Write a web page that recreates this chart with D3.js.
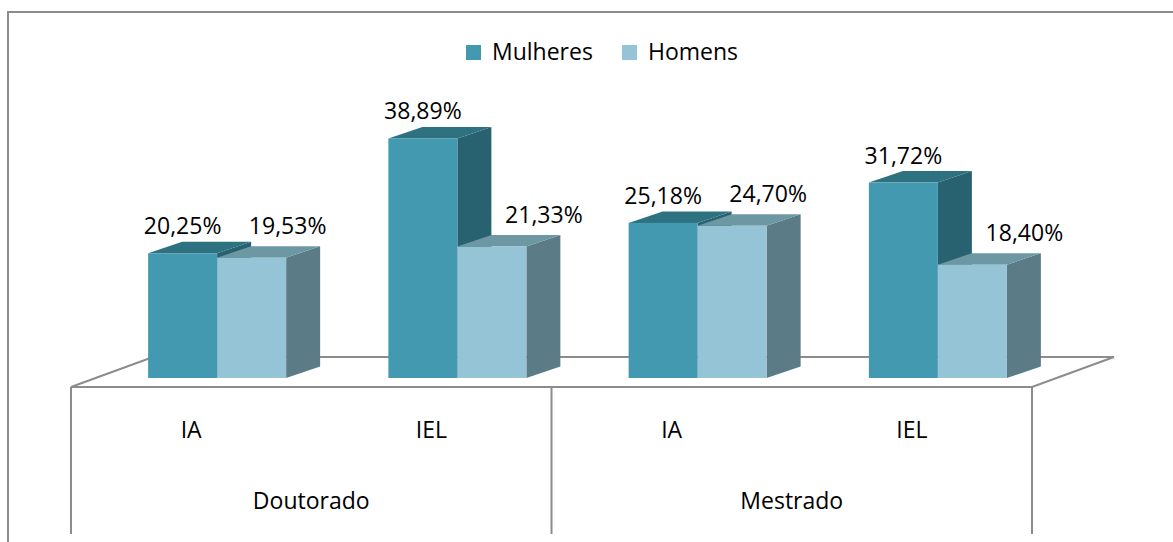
<!DOCTYPE html>
<html>
<head>
<meta charset="utf-8">
<script src="https://cdn.jsdelivr.net/npm/d3@7"></script>
<style>
  body { margin: 0; background: #fff; }
  svg { display: block; font-family: "Open Sans", sans-serif; }
</style>
</head>
<body>
<div id="chart"></div>
<script>
// dados
const grupos = ['Doutorado', 'Mestrado'];
const institutos = ['IA', 'IEL'];
const series = ['Mulheres', 'Homens'];
const mulheres = [20.25, 38.89, 25.18, 31.72];
const homens = [19.53, 21.33, 24.70, 18.40];

const width = 1173, height = 542;
const cores = {
    Mulheres: { front: '#4299b0', top: '#2e7282', side: '#286170' },
    Homens: { front: '#94c4d6', top: '#6c97a3', side: '#5b7b86' }
};

const categorias = [];
grupos.forEach(g => institutos.forEach(i => categorias.push(g + '|' + i)));

const dados = categorias.map((c, k) => ({
    cat: c,
    grupo: c.split('|')[0],
    inst: c.split('|')[1],
    valores: [
        { serie: 'Mulheres', v: mulheres[k] },
        { serie: 'Homens', v: homens[k] }
    ]
}));

const svg = d3.select('#chart').append('svg')
    .attr('width', width)
    .attr('height', height);

// borda externa
svg.append('path')
    .attr('d', `M8,${height} L8,12 L${width},12`)
    .attr('fill', 'none')
    .attr('stroke', '#8c8c8c')
    .attr('stroke-width', 2);

// escalas
const floorLeft = 71, floorRight = 1032, floorFront = 387;
const floorDx = 82, floorDy = -30;
const base = 378;           // base frontal das barras
const barDx = 34, barDy = -11.5;
const shift = 26;            // deslocamento em profundidade

const x0 = d3.scaleBand().domain(categorias).range([floorLeft, floorRight]);
const xg = d3.scaleBand().domain(grupos).range([floorLeft, floorRight]);
const barW = 69;
const x1 = d3.scaleBand().domain(series).range([0, barW * 2]);
const y = d3.scaleLinear().domain([0, 40]).range([base, base - 246.4]);

// chão
const floor = svg.append('g')
    .attr('fill', 'none')
    .attr('stroke', '#8c8c8c')
    .attr('stroke-width', 2);

floor.append('path')
    .attr('d', `M${floorLeft},${floorFront} L${floorLeft + floorDx},${floorFront + floorDy} L${floorRight + floorDx},${floorFront + floorDy} L${floorRight},${floorFront} Z`);

// linhas verticais dos grupos
const divisoes = [floorLeft].concat(grupos.map(g => xg(g) + xg.bandwidth()));
floor.selectAll('.div')
    .data(divisoes)
    .enter().append('line')
    .attr('x1', d => d).attr('x2', d => d)
    .attr('y1', floorFront).attr('y2', 534);

// barras 3D
function desenhaBarra(g, x, v, cor) {
    const top = y(v);
    const w = x1.bandwidth();
    // lateral
    g.append('path')
        .attr('d', `M${x + w},${base} L${x + w + barDx},${base + barDy} L${x + w + barDx},${top + barDy} L${x + w},${top} Z`)
        .attr('fill', cor.side);
    // topo
    g.append('path')
        .attr('d', `M${x},${top} L${x + barDx},${top + barDy} L${x + w + barDx},${top + barDy} L${x + w},${top} Z`)
        .attr('fill', cor.top);
    // frente
    g.append('rect')
        .attr('x', x).attr('y', top)
        .attr('width', w).attr('height', base - top)
        .attr('fill', cor.front);
}

const barras = svg.append('g');
dados.forEach(d => {
    const inicio = x0(d.cat) + (x0.bandwidth() - barW * 2) / 2 + shift;
    const g = barras.append('g');
    d.valores.forEach(s => desenhaBarra(g, inicio + x1(s.serie), s.v, cores[s.serie]));
});

// rótulos dos valores
const fmt = v => d3.format('.2f')(v).replace('.', ',') + '%';
const rotulos = svg.append('g')
    .attr('font-size', 23)
    .attr('fill', '#000')
    .attr('text-anchor', 'middle');

dados.forEach(d => {
    const inicio = x0(d.cat) + (x0.bandwidth() - barW * 2) / 2 + shift;
    const m = d.valores[0].v, h = d.valores[1].v;
    d.valores.forEach((s, i) => {
        let cx = inicio + x1(s.serie) + x1.bandwidth() / 2;
        let cy = y(s.v) - 19;
        if (i === 1) {
            cx += (m - h > 5) ? 52 : 36;
            cy -= 5;
        }
        rotulos.append('text')
            .attr('x', cx)
            .attr('y', cy)
            .text(fmt(s.v));
    });
});

// rótulos do eixo
const eixo = svg.append('g')
    .attr('font-size', 23)
    .attr('fill', '#000')
    .attr('text-anchor', 'middle');

eixo.selectAll('.inst')
    .data(dados)
    .enter().append('text')
    .attr('x', d => x0(d.cat) + x0.bandwidth() / 2)
    .attr('y', 438)
    .text(d => d.inst);

eixo.selectAll('.grupo')
    .data(grupos)
    .enter().append('text')
    .attr('x', d => xg(d) + xg.bandwidth() / 2)
    .attr('y', 509)
    .text(d => d);

// legenda
const legenda = svg.append('g').attr('font-size', 23);
const legX = [466, 622];
series.forEach((s, i) => {
    legenda.append('rect')
        .attr('x', legX[i]).attr('y', 45)
        .attr('width', 15).attr('height', 15)
        .attr('fill', cores[s].front);
    legenda.append('text')
        .attr('x', legX[i] + 26).attr('y', 60)
        .text(s);
});
</script>
</body>
</html>
